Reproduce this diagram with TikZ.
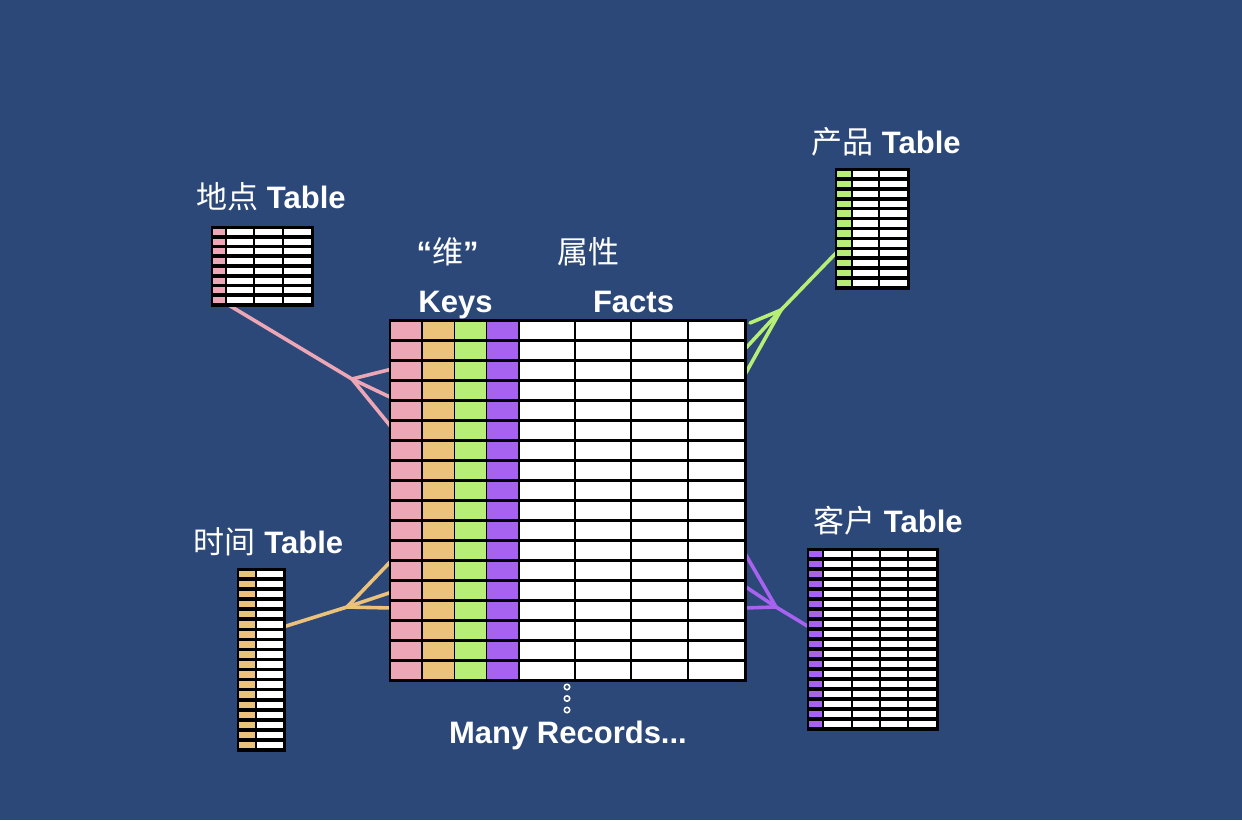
\documentclass[tikz,border=0pt]{standalone}
\usepackage{fontspec}
\setmainfont{Liberation Sans}
\newfontfamily\cjk{Noto Sans CJK SC}
\usetikzlibrary{fit}
\definecolor{bgblue}{RGB}{43,72,121}
\definecolor{kpink}{RGB}{236,166,181}
\definecolor{korange}{RGB}{236,194,122}
\definecolor{kgreen}{RGB}{182,238,118}
\definecolor{kpurple}{RGB}{168,98,240}
% color, xa, xb, y0, rowh, nrows, hgap
\newcommand\cellcol[7]{%
  \foreach \i in {1,...,#6}{\fill[#1] ({#2+#7},{#4+(\i-1)*#5+\vg}) rectangle ({#3-#7},{#4+\i*#5-\vg});}}
\begin{document}
\begin{tikzpicture}[x=1pt,y=-1pt,
  tabbox/.style={fill=black, inner sep=1.5pt, draw=none},
  lbl/.style={text=white, inner sep=0pt, font=\fontsize{31}{36}\selectfont\bfseries},
  link/.style={line width=3.6pt, line cap=round, line join=round},
  dotring/.style={draw=white, line width=1.5pt, circle, inner sep=0pt, minimum size=5.5pt}]
\useasboundingbox (0,0) rectangle (1242,820);
\fill[bgblue] (0,0) rectangle (1242,820);

% ---- connector coordinates ----
\coordinate (ddout) at (227,304);
\coordinate (pf) at (352,379);
\coordinate (mp1) at (392,369);
\coordinate (mp2) at (392,398);
\coordinate (mp3) at (392,428);

\coordinate (cpout) at (837,252);
\coordinate (gf) at (781,310);
\coordinate (mg1) at (750,323);
\coordinate (mg2) at (744,350);
\coordinate (mg3) at (743,378);

\coordinate (sjout) at (283,627);
\coordinate (of) at (347,607);
\coordinate (mo1) at (392,560);
\coordinate (mo2) at (392,592);
\coordinate (mo3) at (392,608);

\coordinate (khout) at (809,627);
\coordinate (uf) at (776,607);
\coordinate (mu1) at (743,550);
\coordinate (mu2) at (743,585);
\coordinate (mu3) at (743,608);

\draw[link, kpink] (ddout) -- (pf);
\draw[link, kpink] (pf) -- (mp1);
\draw[link, kpink] (pf) -- (mp2);
\draw[link, kpink] (pf) -- (mp3);

\draw[link, kgreen] (cpout) -- (gf);
\draw[link, kgreen] (gf) -- (mg1);
\draw[link, kgreen] (gf) -- (mg2);
\draw[link, kgreen] (gf) -- (mg3);

\draw[link, korange] (sjout) -- (of);
\draw[link, korange] (of) -- (mo1);
\draw[link, korange] (of) -- (mo2);
\draw[link, korange] (of) -- (mo3);

\draw[link, kpurple] (khout) -- (uf);
\draw[link, kpurple] (uf) -- (mu1);
\draw[link, kpurple] (uf) -- (mu2);
\draw[link, kpurple] (uf) -- (mu3);

% ---- main fact table ----
\node[tabbox, fit={(390,320) (745,680)}] (main) {};
\def\vg{1.5}
\cellcol{kpink}{390}{422}{320}{20}{18}{0.7}
\cellcol{korange}{422}{454.5}{320}{20}{18}{0.7}
\cellcol{kgreen}{454.5}{486.5}{320}{20}{18}{0.7}
\cellcol{kpurple}{486.5}{518.5}{320}{20}{18}{0.7}
\foreach \a/\b in {518.5/575,575/631,631/688,688/745}{\cellcol{white}{\a}{\b}{320}{20}{18}{1.2}}

% ---- dimension tables ----
\def\vg{1.8}
% 地点
\node[tabbox, fit={(212,227) (312,305)}] (dd) {};
\cellcol{kpink}{212}{226}{227}{9.75}{8}{1.3}
\foreach \a/\b in {226/254,254/283,283/312}{\cellcol{white}{\a}{\b}{227}{9.75}{8}{1.3}}
% 产品
\node[tabbox, fit={(836,169) (908,288)}] (cp) {};
\cellcol{kgreen}{836}{852}{169}{9.917}{12}{1.3}
\foreach \a/\b in {852/879,879/908}{\cellcol{white}{\a}{\b}{169}{9.917}{12}{1.3}}
% 时间
\node[tabbox, fit={(238,569) (284,750)}] (sj) {};
\cellcol{korange}{238}{256}{569}{10.056}{18}{1.3}
\cellcol{white}{256}{284}{569}{10.056}{18}{1.3}
% 客户
\node[tabbox, fit={(808,549) (937,729)}] (kh) {};
\cellcol{kpurple}{808}{823}{549}{10}{18}{1.3}
\foreach \a/\b in {823/852,852/880,880/908,908/937}{\cellcol{white}{\a}{\b}{549}{10}{18}{1.3}}

% ---- labels ----
\node[lbl, anchor=base] (ddlbl) at (271,208) {{\cjk\mdseries 地点} Table};
\node[lbl, anchor=base] (cplbl) at (886,153) {{\cjk\mdseries 产品} Table};
\node[lbl, anchor=base] (sjlbl) at (268.5,553) {{\cjk\mdseries 时间} Table};
\node[lbl, anchor=base] (khlbl) at (888,532) {{\cjk\mdseries 客户} Table};
\node[lbl, anchor=base] (wei) at (447.5,263) {“{\cjk\mdseries 维}”};
\node[lbl, anchor=base] (sx) at (588,263) {{\cjk\mdseries 属性}};
\node[lbl, anchor=base] (keys) at (455.5,312) {Keys};
\node[lbl, anchor=base] (facts) at (633.5,312) {Facts};
\node[lbl, anchor=base] (many) at (568,743) {Many Records...};

% ---- continuation dots ----
\node[dotring] (d1) at (567,687) {};
\node[dotring] (d2) at (567,698.5) {};
\node[dotring] (d3) at (567,710) {};
\end{tikzpicture}
\end{document}
